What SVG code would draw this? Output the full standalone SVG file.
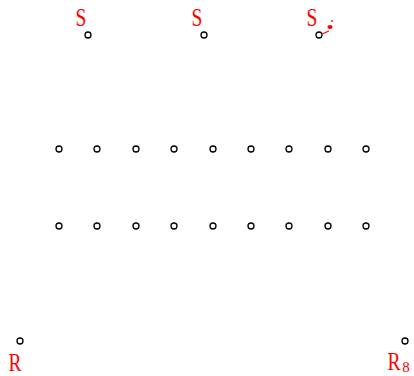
<svg xmlns="http://www.w3.org/2000/svg" width="414" height="376" viewBox="0 0 414 376">
<style>
.n{fill:#fff;stroke:#000;stroke-width:1.3}
.l{fill:#f00;font-family:"Liberation Serif",serif;font-size:26px;text-anchor:middle}
.sub{font-size:15px}
</style>
<rect width="414" height="376" fill="#fff"/>
<g id="connectors"></g>
<g id="s1"><circle class="n" cx="88" cy="35" r="3"/><text class="l" transform="translate(81 26) scale(0.75 1)">S</text></g>
<g id="s2"><circle class="n" cx="204" cy="35" r="3"/><text class="l" transform="translate(197 26) scale(0.75 1)">S</text></g>
<g id="s3"><circle class="n" cx="319" cy="35" r="3"/><text class="l" transform="translate(312 26) scale(0.75 1)">S</text>
<path d="M322 34 L329 31" stroke="#f00" stroke-width="1.3"/><ellipse cx="330" cy="27" rx="2.6" ry="2" fill="#f00"/><circle cx="332" cy="21" r="0.9" fill="#f00"/></g>
<g id="row1">
<circle class="n" cx="59" cy="149" r="3"/><circle class="n" cx="97" cy="149" r="3"/><circle class="n" cx="136" cy="149" r="3"/><circle class="n" cx="174" cy="149" r="3"/><circle class="n" cx="213" cy="149" r="3"/><circle class="n" cx="251" cy="149" r="3"/><circle class="n" cx="289" cy="149" r="3"/><circle class="n" cx="328" cy="149" r="3"/><circle class="n" cx="366" cy="149" r="3"/>
</g>
<g id="row2">
<circle class="n" cx="59" cy="226" r="3"/><circle class="n" cx="97" cy="226" r="3"/><circle class="n" cx="136" cy="226" r="3"/><circle class="n" cx="174" cy="226" r="3"/><circle class="n" cx="213" cy="226" r="3"/><circle class="n" cx="251" cy="226" r="3"/><circle class="n" cx="289" cy="226" r="3"/><circle class="n" cx="328" cy="226" r="3"/><circle class="n" cx="366" cy="226" r="3"/>
</g>
<g id="r1"><circle class="n" cx="20" cy="341" r="3"/><text class="l" transform="translate(15 371) scale(0.75 1)">R</text></g>
<g id="r2"><circle class="n" cx="405" cy="341" r="3"/><text class="l" transform="translate(394 370) scale(0.75 1)">R</text><text class="l sub" x="406" y="372">8</text></g>
</svg>
